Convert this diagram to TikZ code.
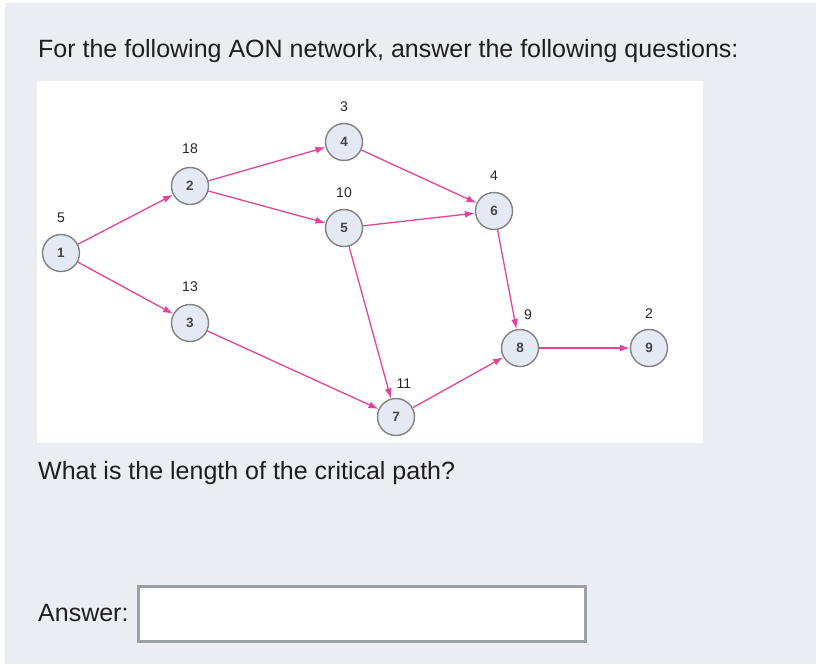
\documentclass[tikz,border=0pt]{standalone}
\usepackage{fontspec}
\setmainfont{Liberation Sans}
\usetikzlibrary{arrows.meta}
\definecolor{bgcol}{RGB}{236,237,242}
\definecolor{edgecol}{RGB}{226,68,154}
\definecolor{nodefill}{RGB}{228,233,244}
\definecolor{nodedraw}{RGB}{130,130,130}
\definecolor{boxdraw}{RGB}{155,159,166}
\definecolor{txt}{RGB}{30,30,32}
\begin{document}
\begin{tikzpicture}[x=1pt,y=-1pt,
 act/.style={circle,draw=nodedraw,fill=nodefill,line width=1.4pt,minimum size=37pt,inner sep=0pt,font=\fontsize{13.5}{13.5}\selectfont\bfseries,text=black!72},
 dur/.style={inner sep=0pt,font=\fontsize{14}{14}\selectfont,text=black!85},
 arr/.style={draw=edgecol,line width=1.3pt,-{Latex[length=10pt,width=7pt]}},
 qtext/.style={anchor=base west,inner sep=0pt,font=\fontsize{25}{25}\selectfont,text=txt}]
\useasboundingbox (0,0) rectangle (816,664);
\fill[white] (0,0) rectangle (816,664);
\fill[bgcol] (5,3) rectangle (816,664);
\fill[white] (37,81) rectangle (703,443);
% activities
\node[act] (n1) at (61,253) {1};
\node[act] (n2) at (190,186) {2};
\node[act] (n3) at (190,323) {3};
\node[act] (n4) at (344,142) {4};
\node[act] (n5) at (344,228) {5};
\node[act] (n6) at (494,211) {6};
\node[act] (n7) at (396,417) {7};
\node[act] (n8) at (520,348) {8};
\node[act] (n9) at (649,348) {9};
% durations
\node[dur] (d1) at (61,218) {5};
\node[dur] (d2) at (190,149) {18};
\node[dur] (d3) at (190,287) {13};
\node[dur] (d4) at (344,107) {3};
\node[dur] (d5) at (344,193) {10};
\node[dur] (d6) at (494,176) {4};
\node[dur] (d7) at (404,384) {11};
\node[dur] (d8) at (528,315) {9};
\node[dur] (d9) at (649,314) {2};
% connectors
\draw[arr] (n1) -- (n2);
\draw[arr] (n1) -- (n3);
\draw[arr] (n2) -- (n4);
\draw[arr] (n2) -- (n5);
\draw[arr] (n4) -- (n6);
\draw[arr] (n5) -- (n6);
\draw[arr] (n5) -- (n7);
\draw[arr] (n3) -- (n7);
\draw[arr] (n6) -- (n8);
\draw[arr] (n7) -- (n8);
\draw[arr] (n8) -- (n9);
% texts
\node[qtext] (t1) at (38,57) {For the following AON network, answer the following questions:};
\node[qtext] (t2) at (38,479) {What is the length of the critical path?};
\node[qtext] (t3) at (38,621) {Answer:};
\draw[draw=boxdraw,line width=3pt,fill=white] (138.5,586.5) rectangle (585.5,641.5);
\end{tikzpicture}
\end{document}
